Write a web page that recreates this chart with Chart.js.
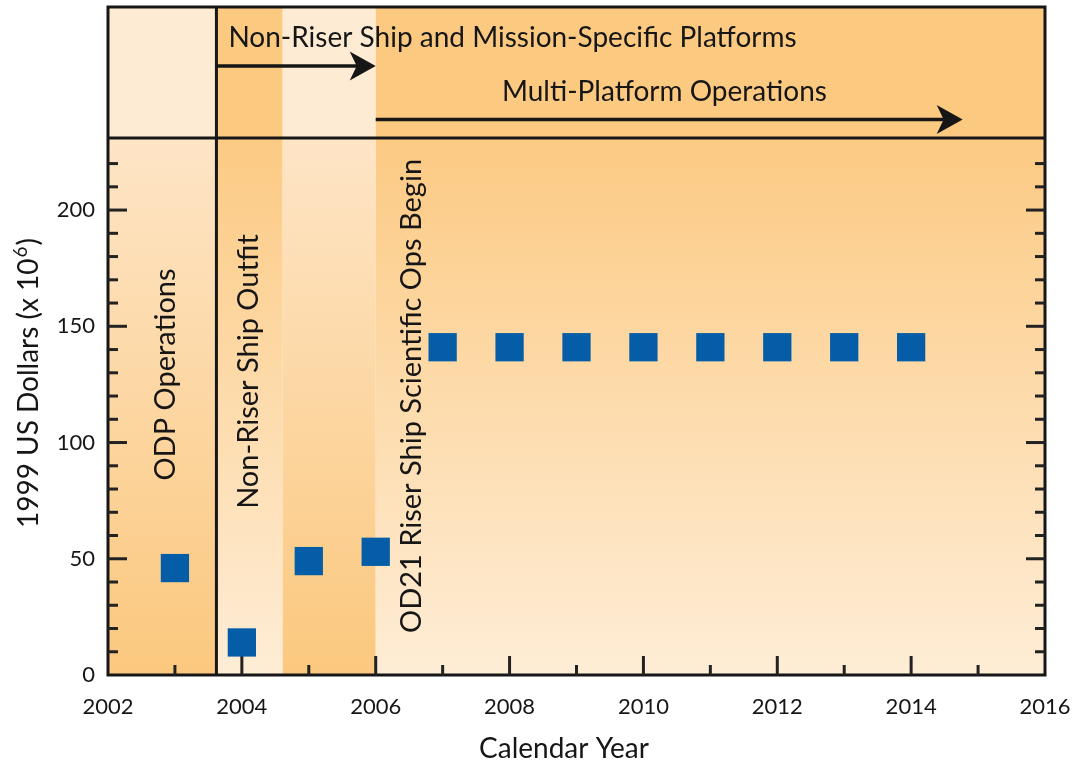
<!DOCTYPE html>
<html>
<head>
<meta charset="utf-8">
<script src="https://cdn.jsdelivr.net/npm/chart.js@4/dist/chart.umd.min.js"></script>
<style>
  html, body { margin: 0; padding: 0; background: #ffffff; }
  #wrap { width: 1072px; height: 763px; }
</style>
</head>
<body>
<div id="wrap"><canvas id="c" width="1072" height="763"></canvas></div>
<script>
// Annual program cost, 1999 US dollars (millions)
const years = [2003, 2004, 2005, 2006, 2007, 2008, 2009, 2010, 2011, 2012, 2013, 2014];
const costs = [46, 14, 49, 53, 141, 141, 141, 141, 141, 141, 141, 141];

const yearTicks = [2002, 2004, 2006, 2008, 2010, 2012, 2014, 2016];
const dollarTicks = [0, 50, 100, 150, 200];

// Program phases (calendar-year boundaries) and their labels
const phaseEdges = [2002, 2003.62, 2004.61, 2006, 2016];
const phaseLabels = ['ODP Operations', 'Non-Riser Ship Outfit', '', 'OD21 Riser Ship Scientific Ops Begin'];
const bannerLabels = ['Non-Riser Ship and Mission-Specific Platforms', 'Multi-Platform Operations'];
const multiPlatformArrowEnd = 2014.77;

const FONT = 'Lato, "Open Sans", sans-serif';
const INK = '#161616';
const ORANGE = '#FBC87E';
const CREAM = '#FEEDD6';

function line(ctx, x1, y1, x2, y2) {
  ctx.beginPath(); ctx.moveTo(x1, y1); ctx.lineTo(x2, y2); ctx.stroke();
}

function arrow(ctx, x1, x2, y) {
  ctx.lineWidth = 3.5;
  line(ctx, x1, y, x2 - 18, y);
  ctx.beginPath();
  ctx.moveTo(x2, y);
  ctx.lineTo(x2 - 26, y - 14.5);
  ctx.lineTo(x2 - 19, y);
  ctx.lineTo(x2 - 26, y + 14.5);
  ctx.closePath();
  ctx.fill();
}

function vtext(ctx, text, bx, cy) {
  ctx.save();
  ctx.translate(bx, cy);
  ctx.rotate(-Math.PI / 2);
  ctx.textAlign = 'center';
  ctx.textBaseline = 'alphabetic';
  ctx.fillText(text, 0, 0);
  ctx.restore();
}

const phasePlugin = {
  id: 'phases',
  beforeDatasetsDraw(chart) {
    const { ctx, chartArea: a, scales: { x, y } } = chart;
    const bannerTop = 7;
    const xs = phaseEdges.map(v => x.getPixelForValue(v));

    ctx.save();
    // plot-area bands: gradients alternate direction from phase to phase
    for (let i = 0; i < xs.length - 1; i++) {
      const g = ctx.createLinearGradient(0, a.top, 0, a.bottom);
      if (i % 2 === 0) { g.addColorStop(0, '#FEE5C6'); g.addColorStop(1, ORANGE); }
      else { g.addColorStop(0, '#FCCA83'); g.addColorStop(1, CREAM); }
      ctx.fillStyle = g;
      ctx.fillRect(xs[i], a.top, xs[i + 1] - xs[i], a.bottom - a.top);
    }
    // banner bands
    for (let i = 0; i < xs.length - 1; i++) {
      ctx.fillStyle = i % 2 === 0 ? '#FEEBD3' : '#FCC981';
      ctx.fillRect(xs[i], bannerTop, xs[i + 1] - xs[i], a.top - bannerTop);
    }

    // frame, banner divider and ODP/non-riser divider
    ctx.strokeStyle = INK;
    ctx.lineWidth = 3;
    ctx.strokeRect(a.left, bannerTop, a.right - a.left, a.bottom - bannerTop);
    line(ctx, a.left, a.top, a.right, a.top);
    line(ctx, xs[1], bannerTop, xs[1], a.bottom);

    // inward tick marks
    ctx.strokeStyle = '#222';
    ctx.lineWidth = 3;
    for (let yr = 2003; yr < 2016; yr++) {
      const px = x.getPixelForValue(yr);
      const len = yr % 2 === 0 ? 19 : 10;
      line(ctx, px, a.bottom, px, a.bottom - len);
    }
    for (let v = 10; v <= 220; v += 10) {
      const py = y.getPixelForValue(v);
      const len = v % 50 === 0 ? 19 : 10;
      line(ctx, a.left, py, a.left + len, py);
      line(ctx, a.right, py, a.right - len, py);
    }

    // banner arrows and captions
    ctx.fillStyle = INK;
    ctx.strokeStyle = INK;
    arrow(ctx, xs[1], xs[3], 66);
    arrow(ctx, xs[3], x.getPixelForValue(multiPlatformArrowEnd), 119.5);

    ctx.font = '28px ' + FONT;
    ctx.textAlign = 'left';
    ctx.textBaseline = 'alphabetic';
    ctx.fillText(bannerLabels[0], xs[1] + 12, 47);
    ctx.fillText(bannerLabels[1], 502, 101);

    // phase captions, rotated
    ctx.font = '29px ' + FONT;
    vtext(ctx, phaseLabels[0], 175, 374.5);
    vtext(ctx, phaseLabels[1], 258, 371.5);
    vtext(ctx, phaseLabels[3], 421, 396);

    // axis titles
    ctx.font = '28px ' + FONT;
    ctx.textAlign = 'center';
    ctx.fillText('Calendar Year', 564, 758);

    ctx.save();
    ctx.translate(38, 384);
    ctx.rotate(-Math.PI / 2);
    ctx.textAlign = 'left';
    const main = '1999 US Dollars (x 10';
    ctx.font = '28px ' + FONT;
    const w1 = ctx.measureText(main).width;
    const w3 = ctx.measureText(')').width;
    ctx.font = '19px ' + FONT;
    const w2 = ctx.measureText('6').width;
    let sx = -(w1 + w2 + w3) / 2;
    ctx.font = '28px ' + FONT;
    ctx.fillText(main, sx, 0);
    ctx.font = '19px ' + FONT;
    ctx.fillText('6', sx + w1 + 1, -11);
    ctx.font = '28px ' + FONT;
    ctx.fillText(')', sx + w1 + w2 + 2, 0);
    ctx.restore();

    ctx.restore();
  }
};

new Chart(document.getElementById('c').getContext('2d'), {
  type: 'scatter',
  data: {
    datasets: [{
      data: years.map((yr, i) => ({ x: yr, y: costs[i] })),
      pointStyle: 'rect',
      pointRadius: 20,
      pointHoverRadius: 20,
      backgroundColor: '#045DA6',
      borderWidth: 0
    }]
  },
  options: {
    responsive: false,
    animation: false,
    devicePixelRatio: 1,
    layout: { padding: { top: 138, right: 0, left: 0, bottom: 0 } },
    plugins: { legend: { display: false }, tooltip: { enabled: false } },
    scales: {
      x: {
        type: 'linear', min: 2002, max: 2016,
        afterBuildTicks: s => { s.ticks = yearTicks.map(v => ({ value: v })); },
        afterFit: s => { s.height = 88; s.paddingLeft = 0; s.paddingRight = 27; },
        ticks: { font: { family: FONT, size: 22 }, color: INK, padding: 19, maxRotation: 0, callback: v => String(v) },
        grid: { display: false, drawTicks: false },
        border: { display: false }
      },
      y: {
        type: 'linear', min: 0, max: 231,
        afterBuildTicks: s => { s.ticks = dollarTicks.map(v => ({ value: v })); },
        afterFit: s => { s.width = 108; },
        ticks: { font: { family: FONT, size: 22 }, color: INK, padding: 13 },
        grid: { display: false, drawTicks: false },
        border: { display: false }
      }
    }
  },
  plugins: [phasePlugin]
});
</script>
</body>
</html>
